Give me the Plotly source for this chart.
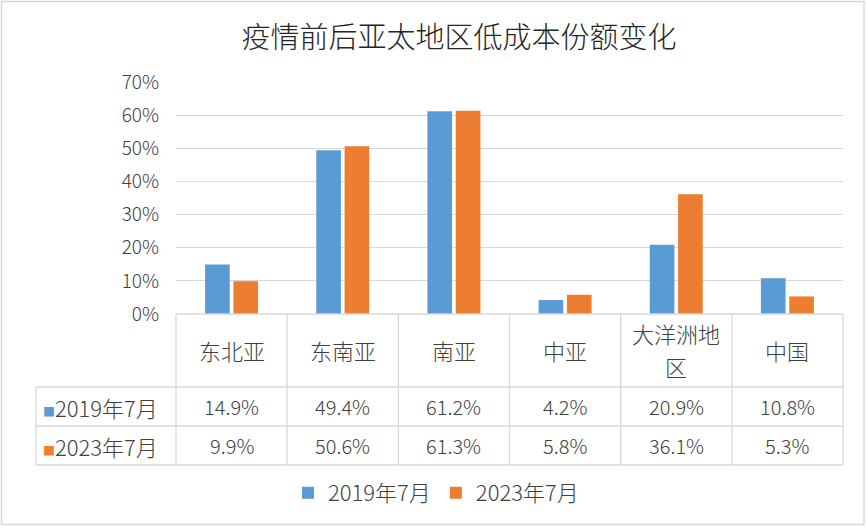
import plotly.graph_objects as go

# ---------------- data ----------------
categories = ["东北亚", "东南亚", "南亚", "中亚", "大洋洲地<br>区", "中国"]
series_names = ["2019年7月", "2023年7月"]
values_2019 = [14.9, 49.4, 61.2, 4.2, 20.9, 10.8]
values_2023 = [9.9, 50.6, 61.3, 5.8, 36.1, 5.3]
y_ticks = [0, 10, 20, 30, 40, 50, 60, 70]
title_text = "疫情前后亚太地区低成本份额变化"

# ---------------- style ----------------
W, H = 867, 527
ML, MR, MT, MB = 176, 24, 82, 213
PW, PH = W - ML - MR, H - MT - MB
BLUE, ORANGE = "#5B9BD5", "#ED7D31"
GRID = "#D9D9D9"
TXT = "#404040"
FONT = "Noto Sans CJK SC"
WT = 300
colors = [BLUE, ORANGE]
series_values = [values_2019, values_2023]


def px_x(px):
    return (px - ML) / PW


def px_y(py):
    return (H - MB - py) / PH


fig = go.Figure()
for name, vals, col in zip(series_names, series_values, colors):
    fig.add_trace(go.Bar(
        x=list(range(len(categories))),
        y=[v / 100 for v in vals],
        name=name,
        marker=dict(color=col, line=dict(width=0)),
        hoverinfo="skip",
    ))

n = len(categories)
shapes = []
annotations = []

# table geometry (pixel positions of row borders)
left_px = 36
row_cat_bottom = 387
row1_bottom = 426
row2_bottom = 465
table_line = dict(color=GRID, width=1.3)

for py in [row_cat_bottom, row1_bottom, row2_bottom]:
    shapes.append(dict(type="line", xref="paper", yref="paper",
                       x0=px_x(left_px), x1=1, y0=px_y(py), y1=px_y(py), line=table_line))
shapes.append(dict(type="line", xref="paper", yref="paper",
                   x0=0, x1=1, y0=0, y1=0, line=table_line))
for i in range(n + 1):
    shapes.append(dict(type="line", xref="paper", yref="paper",
                       x0=i / n, x1=i / n, y0=0, y1=px_y(row2_bottom), line=table_line))
shapes.append(dict(type="line", xref="paper", yref="paper",
                   x0=px_x(left_px), x1=px_x(left_px),
                   y0=px_y(row_cat_bottom), y1=px_y(row2_bottom), line=table_line))

# chart border
shapes.append(dict(type="rect", xref="paper", yref="paper",
                   x0=px_x(1.5), x1=px_x(864), y0=px_y(1.5), y1=px_y(524.5),
                   line=dict(color=GRID, width=1.5), layer="below"))

# category labels (each line placed separately, 33px line spacing)
cat_y = (MT + PH + row_cat_bottom) / 2 - 1
line_gap = 33
for i, c in enumerate(categories):
    parts = c.split("<br>")
    for k, part in enumerate(parts):
        yy = cat_y + (k - (len(parts) - 1) / 2) * line_gap
        annotations.append(dict(x=(i + 0.5) / n, y=px_y(yy), xref="paper", yref="paper",
                                text=part, showarrow=False, xanchor="center", yanchor="middle",
                                font=dict(size=22, color=TXT, family=FONT, weight=WT)))

# series rows
row_centers = [(row_cat_bottom + row1_bottom) / 2, (row1_bottom + row2_bottom) / 2]
for name, vals, col, rc in zip(series_names, series_values, colors, row_centers):
    annotations.append(dict(x=px_x(41), y=px_y(rc), xref="paper", yref="paper",
                            text=f"<span style='color:{col};font-size:12px'>■</span>{name}",
                            showarrow=False, xanchor="left", yanchor="middle",
                            font=dict(size=22, color=TXT, family=FONT, weight=WT)))
    for i, v in enumerate(vals):
        annotations.append(dict(x=(i + 0.5) / n, y=px_y(rc), xref="paper", yref="paper",
                                text=f"{v:.1f}%", showarrow=False,
                                xanchor="center", yanchor="middle",
                                font=dict(size=20, color=TXT, family=FONT, weight=WT)))

fig.update_layout(
    width=W, height=H,
    margin=dict(l=ML, r=MR, t=MT, b=MB, pad=0),
    paper_bgcolor="white", plot_bgcolor="white",
    font=dict(family=FONT, color=TXT, size=19, weight=WT),
    title=dict(text=title_text, x=459 / W, y=1 - 38 / H, xref="container", yref="container",
               xanchor="center", yanchor="middle",
               font=dict(size=29, color="#262626", family=FONT, weight=WT)),
    barmode="group", bargap=0.49, bargroupgap=0.13,
    xaxis=dict(range=[-0.5, n - 0.5], showticklabels=False, showgrid=False,
               zeroline=False, showline=False, ticks=""),
    yaxis=dict(range=[0, 0.7], tickvals=[t / 100 for t in y_ticks],
               ticktext=[f"{t}%" for t in y_ticks], showgrid=True, gridcolor=GRID,
               gridwidth=1.3, zeroline=False, showline=False, ticks="",
               ticklabelstandoff=16, tickfont=dict(size=19, color=TXT, family=FONT, weight=WT)),
    legend=dict(orientation="h", x=px_x(436), y=px_y(493), xanchor="center",
                yanchor="middle", font=dict(size=22, color=TXT, family=FONT, weight=WT),
                bgcolor="rgba(0,0,0,0)", itemclick=False, traceorder="normal"),
    shapes=shapes, annotations=annotations,
    showlegend=True,
)

fig.write_html("out.html")
